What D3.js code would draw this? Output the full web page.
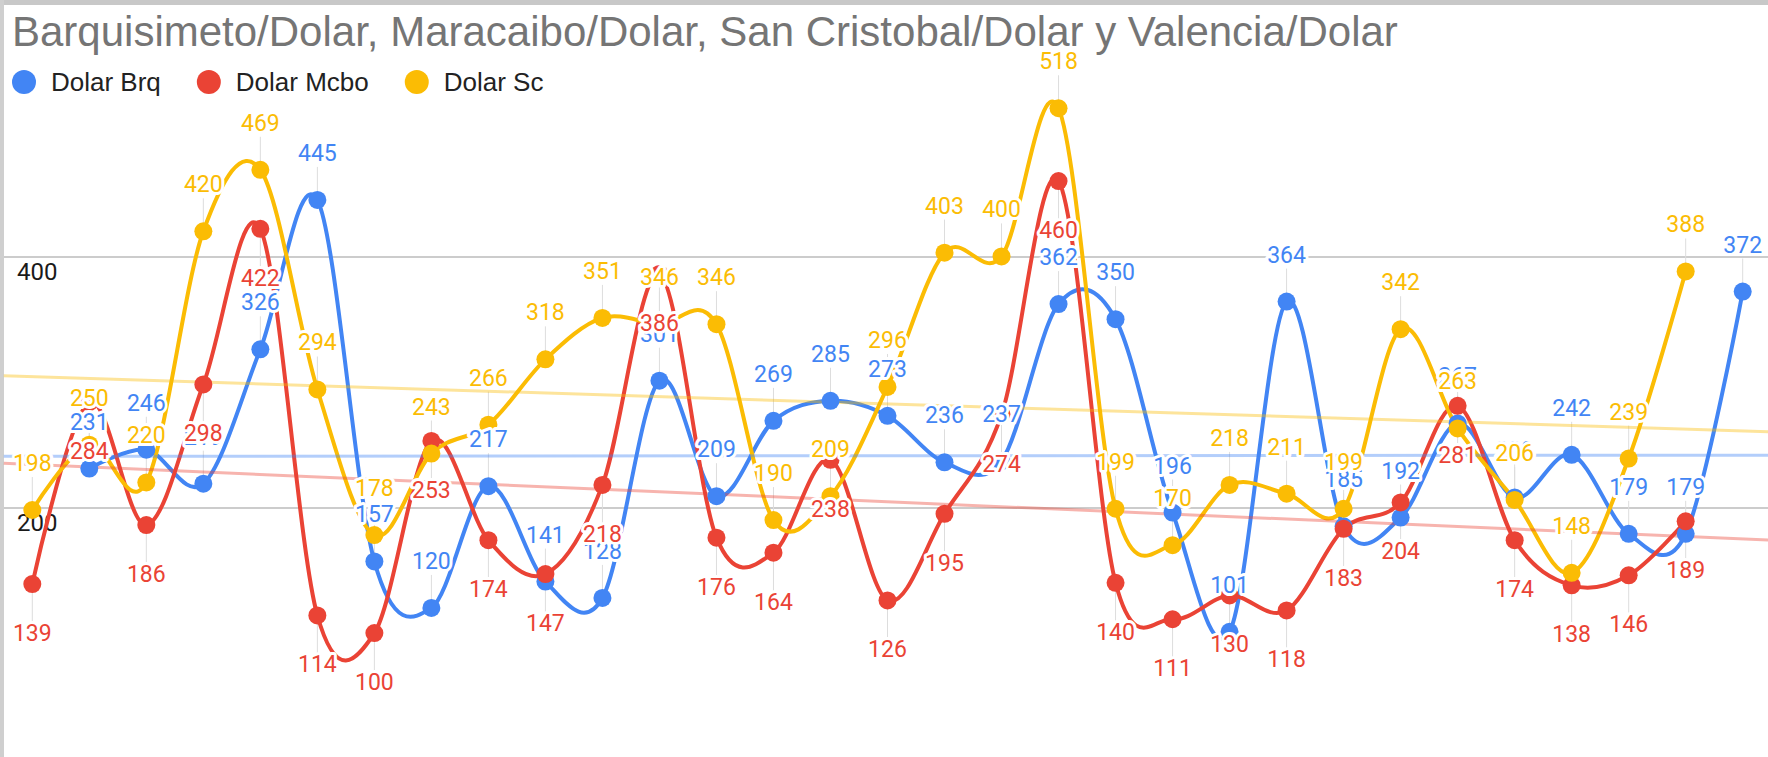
<!DOCTYPE html>
<html>
<head>
<meta charset="utf-8">
<script src="https://cdn.jsdelivr.net/npm/d3@7"></script>
<style>
  html, body { margin: 0; padding: 0; background: #fff; }
  svg { display: block; }
</style>
</head>
<body>
<svg id="chart"></svg>
<script>
// values, one entry per point (null = no point)
const puntos = d3.range(31)
const dolarBrq  = [null, 231, 246, 219, 326, 445, 157, 120, 217, 141, 128, 301, 209, 269, 285, 273, 236, 237, 362, 350, 196, 101, 364, 185, 192, 267, 208, 242, 179, 179, 372]
const dolarMcbo = [139, 284, 186, 298, 422, 114, 100, 253, 174, 147, 218, 386, 176, 164, 238, 126, 195, 274, 460, 140, 111, 130, 118, 183, 204, 281, 174, 138, 146, 189, null]
const dolarSc   = [198, 250, 220, 420, 469, 294, 178, 243, 266, 318, 351, 346, 346, 190, 209, 296, 403, 400, 518, 199, 170, 218, 211, 199, 342, 263, 206, 148, 239, 388, null]
const yTicks = [200, 400]
const titulo = 'Barquisimeto/Dolar, Maracaibo/Dolar, San Cristobal/Dolar y Valencia/Dolar'

const series = [
  { name: 'Dolar Brq',  values: dolarBrq,  color: '#4285f4', label: 'above' },
  { name: 'Dolar Mcbo', values: dolarMcbo, color: '#ea4335', label: 'below' },
  { name: 'Dolar Sc',   values: dolarSc,   color: '#fbbc04', label: 'above' }
]

const width = 1768
const height = 757
const left = 4

const svg = d3.select('#chart')
  .attr('width', width)
  .attr('height', height)

// screenshot frame
svg.append('rect').attr('x', 0).attr('y', 0).attr('width', width).attr('height', 5).attr('fill', '#c8c8c8')
svg.append('rect').attr('x', 0).attr('y', 0).attr('width', left).attr('height', height).attr('fill', '#cfcfcf')

const xScale = d3.scalePoint().domain(puntos).range([32.3, 1742.7])
const yScale = d3.scaleLinear().domain([0, 600]).range([758.6, 5.3])

// gridlines + tick labels
const yAxis = svg.append('g')
  .attr('transform', `translate(${left},0)`)
  .call(d3.axisRight(yScale).tickValues(yTicks).tickSize(width - left).tickFormat(d3.format('d')))
yAxis.select('.domain').remove()
yAxis.selectAll('line').attr('stroke', '#cccccc').attr('stroke-width', 2)
yAxis.selectAll('text')
  .attr('x', 13)
  .attr('dy', 23)
  .attr('text-anchor', 'start')
  .style('font-family', 'Roboto, sans-serif')
  .style('font-size', '24px')
  .attr('fill', '#1a1a1a')

// title
svg.append('text')
  .attr('x', 12)
  .attr('y', 46)
  .style('font-family', '"Liberation Sans", Arial, sans-serif')
  .style('font-size', '42px')
  .attr('fill', '#757575')
  .text(titulo)

// legend
let lx = 12
series.forEach(s => {
  svg.append('circle').attr('cx', lx + 12).attr('cy', 82).attr('r', 12).attr('fill', s.color)
  const t = svg.append('text')
    .attr('x', lx + 39)
    .attr('y', 91)
    .style('font-family', '"Liberation Sans", Arial, sans-serif')
    .style('font-size', '26px')
    .attr('fill', '#222')
    .text(s.name)
  lx = lx + 39 + t.node().getComputedTextLength() + 36
})

const line = d3.line()
  .defined(d => d.v != null)
  .x(d => xScale(d.i))
  .y(d => yScale(d.v))
  .curve(d3.curveCardinal.tension(0))

const pts = s => s.values.map((v, i) => ({ i: i, v: v }))

// annotation stems
series.forEach(s => {
  svg.append('g').selectAll('line')
    .data(pts(s).filter(d => d.v != null))
    .enter().append('line')
    .attr('x1', d => xScale(d.i))
    .attr('x2', d => xScale(d.i))
    .attr('y1', d => yScale(d.v))
    .attr('y2', d => yScale(d.v) + (s.label == 'above' ? -33 : 40))
    .attr('stroke', '#dddddd')
    .attr('stroke-width', 1)
})

series.forEach(s => {
  svg.append('path')
    .datum(pts(s))
    .attr('fill', 'none')
    .attr('stroke', s.color)
    .attr('stroke-width', 4)
    .attr('d', line)
})

// linear trendlines
series.forEach(s => {
  const d = pts(s).filter(p => p.v != null)
  const mx = d3.mean(d, p => p.i)
  const my = d3.mean(d, p => p.v)
  const slope = d3.sum(d, p => (p.i - mx) * (p.v - my)) / d3.sum(d, p => (p.i - mx) * (p.i - mx))
  const step = xScale.step()
  const x0 = -0.5, x1 = 30.6
  svg.append('line')
    .attr('x1', xScale(0) + x0 * step)
    .attr('x2', xScale(0) + x1 * step)
    .attr('y1', yScale(my + slope * (x0 - mx)))
    .attr('y2', yScale(my + slope * (x1 - mx)))
    .attr('stroke', s.color)
    .attr('stroke-opacity', 0.4)
    .attr('stroke-width', 3)
})

series.forEach(s => {
  svg.append('g').selectAll('circle')
    .data(pts(s).filter(d => d.v != null))
    .enter().append('circle')
    .attr('cx', d => xScale(d.i))
    .attr('cy', d => yScale(d.v))
    .attr('r', 9)
    .attr('fill', s.color)
})

// data labels
series.forEach(s => {
  svg.append('g').selectAll('text')
    .data(pts(s).filter(d => d.v != null))
    .enter().append('text')
    .attr('x', d => xScale(d.i))
    .attr('y', d => yScale(d.v) + (s.label == 'above' ? -39 : 57))
    .attr('text-anchor', 'middle')
    .style('font-family', 'Roboto, sans-serif')
    .style('font-size', '23px')
    .style('paint-order', 'stroke')
    .attr('stroke', '#fff')
    .attr('stroke-width', 6)
    .attr('stroke-linejoin', 'round')
    .attr('fill', s.color)
    .text(d => d.v)
})
</script>
</body>
</html>
